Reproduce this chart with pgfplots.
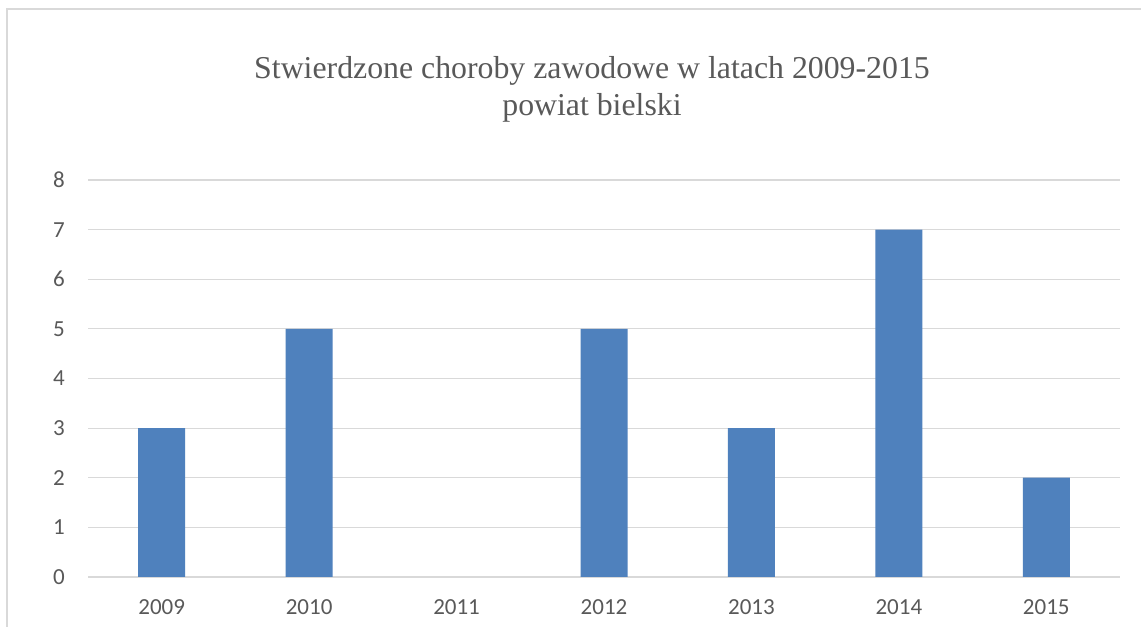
\documentclass[border=0pt]{standalone}
\usepackage{pgfplots}
\pgfplotsset{compat=1.18}
\usepackage{fontspec}
\setmainfont{Carlito}
\newfontfamily\titlefont{Liberation Serif}
\definecolor{barblue}{HTML}{4F81BD}
\definecolor{gridgray}{HTML}{D9D9D9}
\definecolor{textgray}{HTML}{595959}

\begin{document}
\begin{tikzpicture}
\path[use as bounding box] (0,0) rectangle (1141bp,627bp);
\fill[white] (0,0) rectangle (1141bp,627bp);
% ramka wykresu (obcieta z prawej i od dolu)
\draw[gridgray, line width=1.5bp] (7bp,-20bp) rectangle (1170bp,618bp);

\node[text=textgray, font=\titlefont\fontsize{31.8bp}{37bp}\selectfont, align=center]
  at (592bp,538bp) {Stwierdzone choroby zawodowe w latach 2009-2015\\powiat bielski};

\begin{axis}[
    at={(88bp,50bp)}, anchor=south west,
    scale only axis,
    width=1032bp, height=397bp,
    ybar, bar width=47bp,
    xmin=-0.5, xmax=6.5,
    ymin=0, ymax=8,
    xtick={0,...,6},
    xticklabels={2009,2010,2011,2012,2013,2014,2015},
    ytick={0,...,8},
    ymajorgrids,
    grid style={gridgray, line width=1.2bp},
    axis line style={draw=none},
    major tick length=0pt,
    /pgf/number format/assume math mode=true,
    tick label style={text=textgray, font=\fontsize{23bp}{27bp}\selectfont, inner sep=0pt},
    xticklabel style={anchor=base, yshift=-37bp},
    yticklabel style={anchor=east, xshift=-23bp},
]
% 2011: 0
\addplot[fill=barblue, draw=none, bar shift=0pt] coordinates {
    (0,3) (1,5) (3,5) (4,3) (5,7) (6,2)
};
\end{axis}
\end{tikzpicture}
\end{document}
